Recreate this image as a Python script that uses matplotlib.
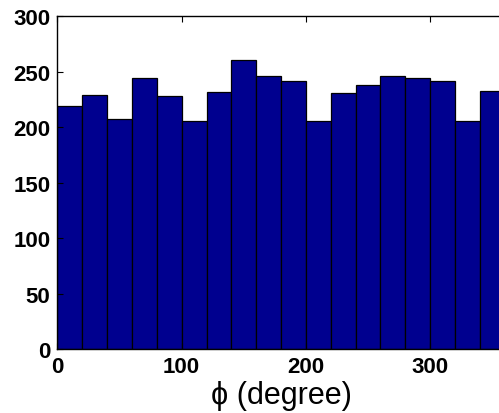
import numpy as np
import matplotlib
matplotlib.use("Agg")
import matplotlib.pyplot as plt

# Histogram of azimuthal angle phi: 18 bins of 20 degrees each
bin_edges = [0, 20, 40, 60, 80, 100, 120, 140, 160, 180,
             200, 220, 240, 260, 280, 300, 320, 340, 360]
counts = [219, 229, 207, 244, 228, 206, 232, 261, 246,
          242, 206, 231, 238, 246, 244, 242, 206, 233]

x_ticks = [0, 100, 200, 300]
y_ticks = [0, 50, 100, 150, 200, 250, 300]

plt.rcParams['font.family'] = ['Liberation Sans', 'DejaVu Sans']

fig = plt.figure(figsize=(4.99, 4.14), dpi=100)
ax = fig.add_axes([0.1152, 0.1546, 0.896, 0.8036])

lefts = np.array(bin_edges[:-1])
widths = np.diff(bin_edges)
ax.bar(lefts, counts, width=widths, align='edge',
       color='#00008f', edgecolor='black', linewidth=0.9)

ax.set_xlim(0, 360)
ax.set_ylim(0, 300)
ax.set_xticks(x_ticks)
ax.set_yticks(y_ticks)

ax.tick_params(direction='in', length=4, width=0.8, top=True, right=True,
               labelsize=16, pad=5)
for lab in ax.get_xticklabels() + ax.get_yticklabels():
    lab.set_fontweight('bold')

for sp in ax.spines.values():
    sp.set_linewidth(1.0)

ax.set_xlabel('\u03d5 (degree)', fontsize=22, labelpad=2)

fig.savefig('out.png', dpi=100)
